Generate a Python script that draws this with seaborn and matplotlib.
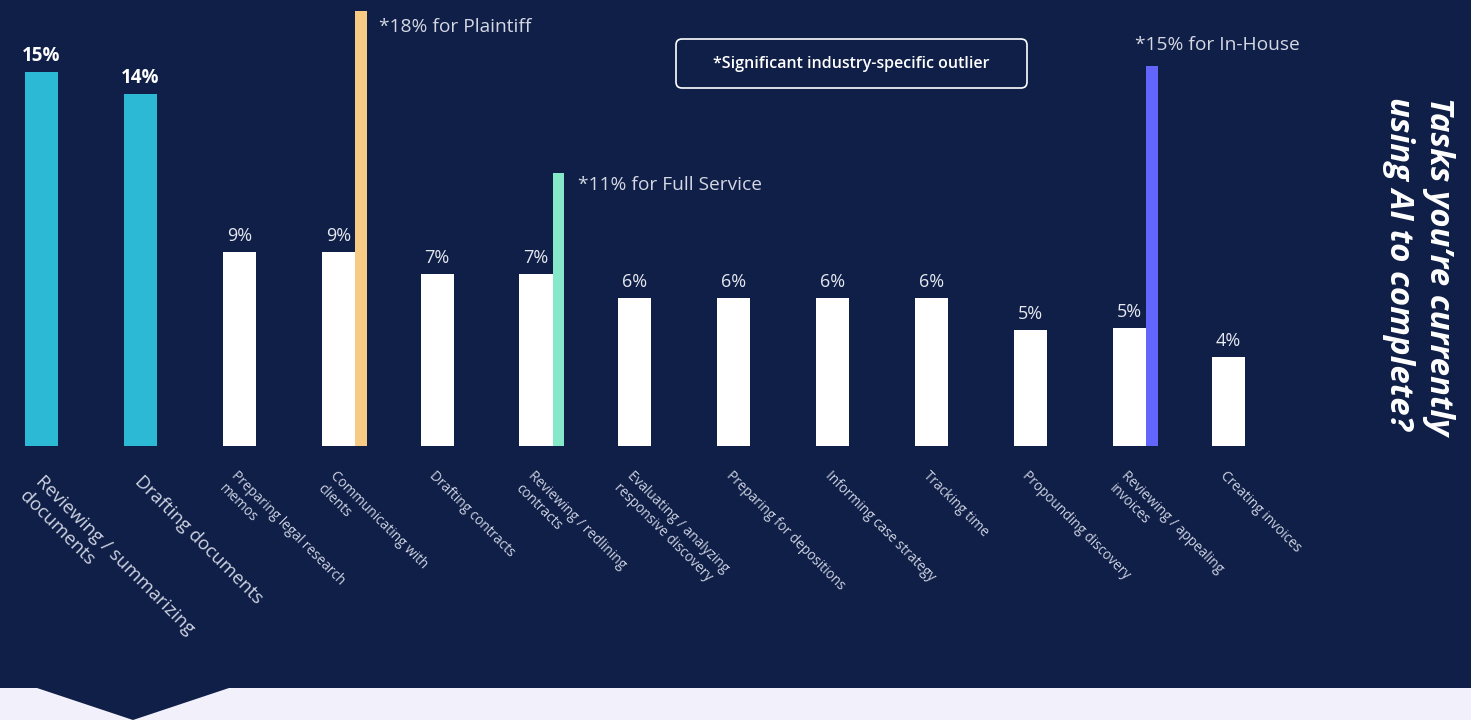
import matplotlib
matplotlib.use("Agg")
import matplotlib.pyplot as plt
import seaborn as sns
import pandas as pd
from matplotlib.patches import Rectangle, Polygon, FancyBboxPatch
from matplotlib.transforms import IdentityTransform

# ---------------- data ----------------
categories = [
    "Reviewing / summarizing\ndocuments",
    "Drafting documents",
    "Preparing legal research\nmemos",
    "Communicating with\nclients",
    "Drafting contracts",
    "Reviewing / redlining\ncontracts",
    "Evaluating / analyzing\nresponsive discovery",
    "Preparing for depositions",
    "Informing case strategy",
    "Tracking time",
    "Propounding discovery",
    "Reviewing / appealing\ninvoices",
    "Creating invoices",
]
values = [15.2, 14.3, 7.9, 7.9, 7.0, 7.0, 6.0, 6.0, 6.0, 6.0, 4.7, 4.8, 3.6]
value_labels = ["15%", "14%", "9%", "9%", "7%", "7%", "6%", "6%", "6%", "6%", "5%", "5%", "4%"]
highlight = [True, True, False, False, False, False, False, False, False, False, False, False, False]

outlier_tasks = [
    "Communicating with\nclients",
    "Reviewing / redlining\ncontracts",
    "Reviewing / appealing\ninvoices",
]
outlier_values = [17.7, 11.1, 15.45]
outlier_labels = ["*18% for Plaintiff", "*11% for Full Service", "*15% for In-House"]
outlier_colors = ["#f8cb84", "#84e8c9", "#6366fd"]

legend_text = "*Significant industry-specific outlier"
title_text = "Tasks you\u2019re currently\nusing AI to complete?"

# ---------------- style ----------------
BG = "#0f1f47"
HIGHLIGHT = "#2cb9d6"
LABEL_COL = "#cfd3e3"
VAL_COL = "#e6e8f0"

sns.set_theme(style="white")
plt.rcParams["font.family"] = ["Open Sans", "DejaVu Sans"]

W, H = 1471, 720
fig = plt.figure(figsize=(W / 100, H / 100), dpi=100, facecolor=BG)
ax = fig.add_axes([0, 0, 1, 1])
ax.set_facecolor(BG)

df = pd.DataFrame({"task": categories, "pct": values})
palette = {c: (HIGHLIGHT if h else "#ffffff") for c, h in zip(categories, highlight)}
sns.barplot(data=df, x="task", y="pct", hue="task", palette=palette, legend=False,
            width=0.334, errorbar=None, saturation=1, linewidth=0, ax=ax)

# layout scale (pixels per slot / per percent)
slot = 98.9
x_first = 41.5
ppu = 24.6
base_px = 446
ax.set_xlim(-x_first / slot, (W - x_first) / slot)
ax.set_ylim(-(H - base_px) / ppu, base_px / ppu)
ax.axis("off")

# outlier bars
half = 0.167
for task, v, c in zip(outlier_tasks, outlier_values, outlier_colors):
    i = categories.index(task)
    ax.bar(i + half, v, width=0.121, align="edge", color=c, linewidth=0, zorder=3)

# value labels
for i, (v, lab, h) in enumerate(zip(values, value_labels, highlight)):
    ax.annotate(lab, (i, v), xytext=(0, 8), textcoords="offset points",
                ha="center", va="baseline", fontsize=13.5 if h else 13,
                fontweight="bold" if h else "normal",
                color="white" if h else VAL_COL)

# category labels
for i, (cat, h) in enumerate(zip(categories, highlight)):
    off = (14, -19) if h else (11.5, -16)
    ax.annotate(cat, (i - half, 0), xytext=off, textcoords="offset points",
                rotation=-45, rotation_mode="anchor", ha="left", va="top",
                fontsize=13.4 if h else 9.8, color=LABEL_COL, linespacing=1.25)

# outlier annotations
ann_offsets = [((0.121, 0), (8.6, -11.5), "left"),
               ((0.121, 0), (10, -8.5), "left"),
               ((0.0, 0), (-8, 15), "left")]
for task, v, lab, (dxy, off, ha) in zip(outlier_tasks, outlier_values, outlier_labels, ann_offsets):
    i = categories.index(task)
    ax.annotate(lab, (i + half + dxy[0], v), xytext=off, textcoords="offset points",
                ha=ha, va="center", fontsize=13.8, color="#d5d8e4")

# legend box
box = FancyBboxPatch((676, H - 88), 351, 49, boxstyle="round,pad=0,rounding_size=6",
                     transform=IdentityTransform(), fc=BG, ec="white", lw=1.2)
fig.add_artist(box)
fig.text(851.5 / W, 1 - 63.5 / H, legend_text, ha="center", va="center",
         fontsize=11.5, fontweight="semibold", color="white")

# right-side title
fig.text(1455 / W, 1 - 97 / H, title_text, rotation=-90, rotation_mode="anchor",
         ha="left", va="top", fontsize=23.8, fontweight="bold", fontstyle="italic",
         color="white", linespacing=1.3)

# bottom strip with arrow notch
fig.add_artist(Rectangle((0, 0), 1, 32 / H, transform=fig.transFigure,
                         fc="#f2f0fa", ec="none", zorder=5))
fig.add_artist(Polygon([(37 / W, 32 / H), (229 / W, 32 / H), (133 / W, 0)],
                       closed=True, transform=fig.transFigure, fc=BG, ec="none", zorder=6))

fig.savefig("out.png", dpi=100, facecolor=BG)
